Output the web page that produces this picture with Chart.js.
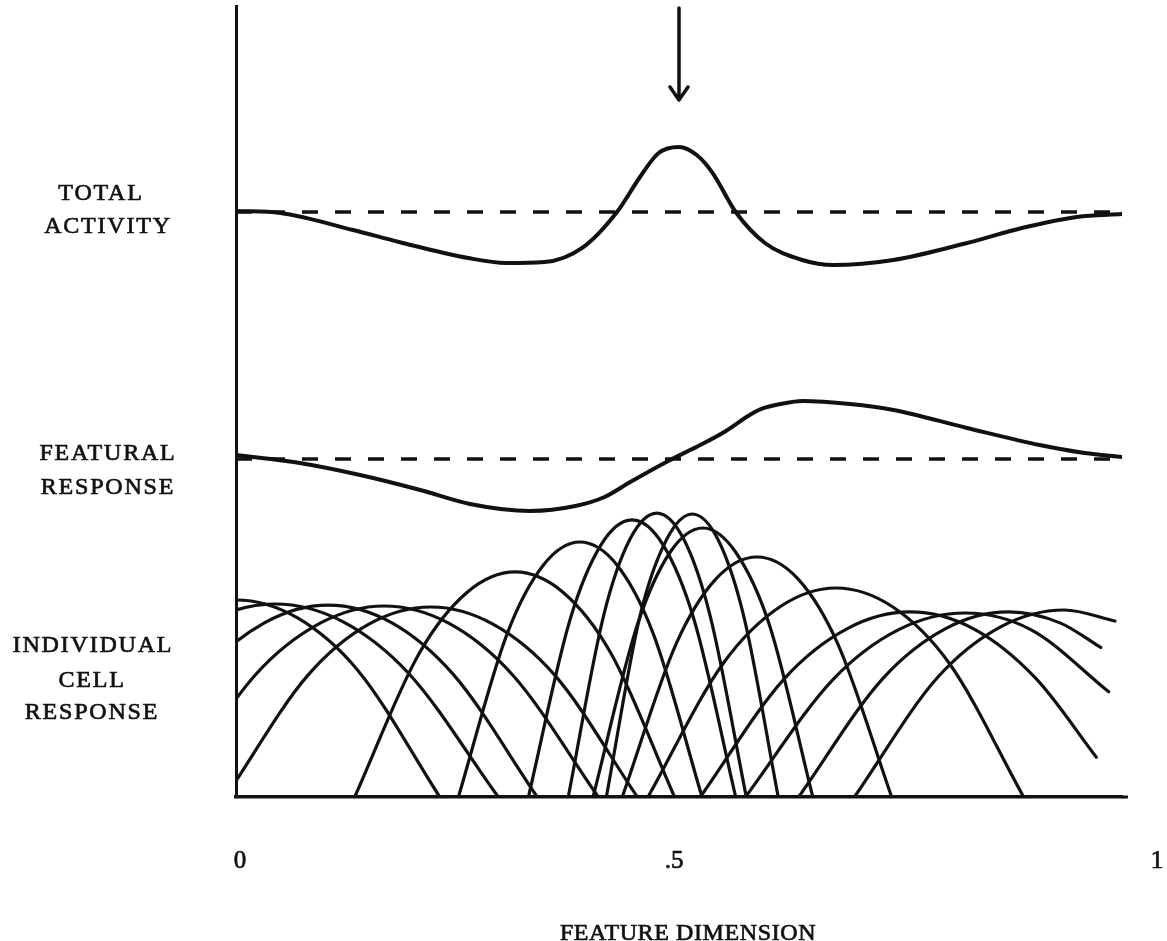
<!DOCTYPE html>
<html>
<head>
<meta charset="utf-8">
<title>Feature dimension: total activity, featural response, individual cell response</title>
<script src="https://cdn.jsdelivr.net/npm/chart.js@4.4.1/dist/chart.umd.min.js"></script>
<style>
  html, body { margin: 0; padding: 0; background: #ffffff; }
  #wrap { width: 1167px; height: 941px; }
</style>
</head>
<body>
<div id="wrap"><canvas id="chart" width="1167" height="941"></canvas></div>
<script>
// ---- Data -------------------------------------------------------------
// Feature dimension runs from 0 to 1; the stimulus sits at .5.
const stimulusAt = 0.5;
const xTicks = [0, 0.5, 1];
const xTickLabels = ['0', '.5', '1'];

// Total activity, relative to its resting level (0).
const totalX = [0, 0.050, 0.132, 0.184, 0.262, 0.305, 0.348, 0.392, 0.430, 0.456, 0.477, 0.500,
                0.520, 0.538, 0.564, 0.597, 0.639, 0.674, 0.742, 0.825, 0.887, 0.949, 1.0];
const totalY = [0.13, -0.13, -2.28, -3.80, -5.83, -6.46, -6.34, -4.44, 0, 4.44, 7.48, 8.24,
                7.22, 4.94, 0, -3.93, -6.08, -6.72, -6.08, -3.93, -2.03, -0.63, -0.25];

// Featural response, relative to its resting level (0).
const featX = [0, 0.072, 0.140, 0.208, 0.264, 0.332, 0.383, 0.416, 0.445, 0.490, 0.524,
               0.553, 0.578, 0.593, 0.616, 0.639, 0.693, 0.742, 0.825, 0.907, 0.958, 1.0];
const featY = [0.51, -0.51, -2.03, -3.93, -5.70, -6.59, -5.96, -4.82, -2.92, -0.13, 1.77,
               3.55, 5.45, 6.34, 7.00, 7.35, 6.97, 6.21, 3.93, 1.77, 0.76, 0.25];

// Individual cell responses: [feature value, response] along each tuning curve.
const cell01 = [[-0.230, 0], [-0.138, 15.98], [-0.069, 22.72], [0.000, 24.97], [0.069, 22.72], [0.138, 15.98], [0.230, 0]];
const cell02 = [[-0.208, 0], [-0.107, 15.65], [-0.031, 22.26], [0.044, 24.46], [0.120, 22.26], [0.195, 15.65], [0.296, 0]];
const cell03 = [[-0.132, 0], [-0.038, 15.57], [0.033, 22.14], [0.104, 24.33], [0.175, 22.14], [0.245, 15.57], [0.340, 0]];
const cell04 = [[-0.074, 0], [0.022, 15.49], [0.095, 22.03], [0.167, 24.21], [0.240, 22.03], [0.312, 15.49], [0.409, 0]];
const cell05 = [[-0.012, 0], [0.081, 15.41], [0.150, 21.91], [0.220, 24.08], [0.290, 21.91], [0.360, 15.41], [0.453, 0]];
const cell06 = [[0.134, 0], [0.207, 18.25], [0.261, 25.95], [0.315, 28.52], [0.369, 25.95], [0.423, 18.25], [0.495, 0]];
const cell07 = [[0.251, 0], [0.306, 20.68], [0.347, 29.41], [0.388, 32.32], [0.430, 29.41], [0.471, 20.68], [0.526, 0]];
const cell08 = [[0.330, 0], [0.377, 22.47], [0.412, 31.95], [0.447, 35.11], [0.482, 31.95], [0.517, 22.47], [0.564, 0]];
const cell09 = [[0.375, 0], [0.415, 23.03], [0.445, 32.75], [0.475, 35.99], [0.505, 32.75], [0.535, 23.03], [0.576, 0]];
const cell10 = [[0.403, 0], [0.453, 21.82], [0.490, 31.02], [0.527, 34.09], [0.564, 31.02], [0.602, 21.82], [0.651, 0]];
const cell11 = [[0.418, 0], [0.456, 22.96], [0.486, 32.64], [0.515, 35.87], [0.544, 32.64], [0.573, 22.96], [0.612, 0]];
const cell12 = [[0.436, 0], [0.497, 19.47], [0.542, 27.68], [0.588, 30.42], [0.634, 27.68], [0.679, 19.47], [0.740, 0]];
const cell13 = [[0.465, 0], [0.550, 16.95], [0.614, 24.11], [0.677, 26.49], [0.741, 24.11], [0.805, 16.95], [0.889, 0]];
const cell14 = [[0.524, 0], [0.619, 15.01], [0.690, 21.34], [0.761, 23.45], [0.832, 21.34], [0.903, 15.01], [0.971, 5.04]];
const cell15 = [[0.575, 0], [0.674, 14.92], [0.748, 21.22], [0.823, 23.32], [0.897, 21.22], [0.985, 13.34]];
const cell16 = [[0.635, 0], [0.730, 15.01], [0.801, 21.34], [0.872, 23.45], [0.930, 22.07], [0.976, 18.95]];
const cell17 = [[0.698, 0], [0.792, 15.17], [0.863, 21.57], [0.935, 23.70], [0.992, 22.30]];

// Row captions and axis title.
const totalCaption = ['TOTAL', 'ACTIVITY'];
const featCaption = ['FEATURAL', 'RESPONSE'];
const cellCaption = ['INDIVIDUAL', 'CELL', 'RESPONSE'];
const axisTitle = 'FEATURE DIMENSION';

// ---- Drawing ----------------------------------------------------------
const INK = '#111111';
const SERIF = '"Liberation Serif", "DejaVu Serif", serif';

const zip = (xs, ys) => xs.map((x, i) => ({ x, y: ys[i] }));
const pairs = arr => arr.map(([x, y]) => ({ x, y }));

function curve(points, yAxisID, width) {
  return {
    data: points, yAxisID, borderColor: INK, borderWidth: width,
    pointRadius: 0, fill: false, cubicInterpolationMode: 'monotone',
    borderCapStyle: 'round', borderJoinStyle: 'round'
  };
}
function restLine(yAxisID) {
  return {
    data: [{ x: 0, y: 0 }, { x: 1, y: 0 }], yAxisID, borderColor: INK,
    borderWidth: 3.5, borderDash: [16, 17], pointRadius: 0, fill: false
  };
}

const cells = [cell01, cell02, cell03, cell04, cell05, cell06, cell07, cell08, cell09,
               cell10, cell11, cell12, cell13, cell14, cell15, cell16, cell17];

const datasets = [
  restLine('yTotal'),
  curve(zip(totalX, totalY), 'yTotal', 4),
  restLine('yFeat'),
  curve(zip(featX, featY), 'yFeat', 4),
  ...cells.map(c => curve(pairs(c), 'yCell', 3.2))
];

// Typed-looking text: fill plus a thin outline to even out the stroke weight.
function typeText(ctx, text, x, y) {
  ctx.fillText(text, x, y);
  ctx.strokeText(text, x, y);
}

// Captions, tick labels and the stimulus arrow.
const annotations = {
  id: 'annotations',
  afterDraw(chart) {
    const { ctx } = chart;
    const x = chart.scales.x;
    ctx.save();
    ctx.fillStyle = INK;
    ctx.strokeStyle = INK;
    ctx.lineWidth = 0.7;
    ctx.textAlign = 'center';
    ctx.textBaseline = 'alphabetic';

    ctx.font = '24px ' + SERIF;
    ctx.letterSpacing = '1.8px';
    const rows = [
      [totalCaption, [[101, 200], [108, 233]]],
      [featCaption, [[108, 460], [108, 494]]],
      [cellCaption, [[93, 652], [92, 687], [92, 719]]]
    ];
    rows.forEach(([lines, pos]) => {
      lines.forEach((t, i) => typeText(ctx, t, pos[i][0], pos[i][1]));
    });

    // tick labels along the feature dimension
    ctx.font = '25px ' + SERIF;
    ctx.letterSpacing = '0px';
    const tickShift = [4, -5, 35];
    xTicks.forEach((v, i) => {
      typeText(ctx, xTickLabels[i], x.getPixelForValue(v) + tickShift[i], 868);
    });

    ctx.font = '24px ' + SERIF;
    ctx.letterSpacing = '0.6px';
    typeText(ctx, axisTitle, 688, 940);

    // arrow marking the stimulus
    const ax = x.getPixelForValue(stimulusAt);
    ctx.lineWidth = 3.5;
    ctx.lineCap = 'round';
    ctx.lineJoin = 'round';
    ctx.beginPath();
    ctx.moveTo(ax, 8);
    ctx.lineTo(ax, 99);
    ctx.moveTo(ax - 9, 87);
    ctx.lineTo(ax, 100);
    ctx.lineTo(ax + 9, 87);
    ctx.stroke();

    // the baseline trails off in a few short dashes past the last cell
    const base = chart.chartArea.bottom;
    ctx.lineWidth = 3;
    ctx.lineCap = 'butt';
    ctx.setLineDash([6, 5]);
    ctx.beginPath();
    ctx.moveTo(chart.chartArea.right, base);
    ctx.lineTo(chart.chartArea.right + 10, base);
    ctx.stroke();
    ctx.restore();
  }
};

new Chart(document.getElementById('chart'), {
  type: 'line',
  data: { datasets },
  options: {
    responsive: false,
    animation: false,
    devicePixelRatio: 1,
    events: [],
    layout: { padding: { left: 236, right: 45, top: 6, bottom: 144 } },
    plugins: { legend: { display: false }, tooltip: { enabled: false }, title: { display: false } },
    scales: {
      x: {
        type: 'linear', position: 'bottom', min: 0, max: 1,
        grid: { display: false, drawTicks: false },
        ticks: { display: false },
        border: { display: true, color: INK, width: 3.5 },
        afterFit(s) { s.height = 0; }
      },
      yCell: {
        type: 'linear', position: 'left', min: 0, max: 100.25,
        grid: { display: false, drawTicks: false },
        ticks: { display: false },
        border: { display: true, color: INK, width: 3 },
        afterFit(s) { s.width = 0; }
      },
      yTotal: { type: 'linear', display: false, min: -74.14, max: 26.11 },
      yFeat: { type: 'linear', display: false, min: -42.84, max: 57.41 }
    }
  },
  plugins: [annotations]
});
</script>
</body>
</html>
